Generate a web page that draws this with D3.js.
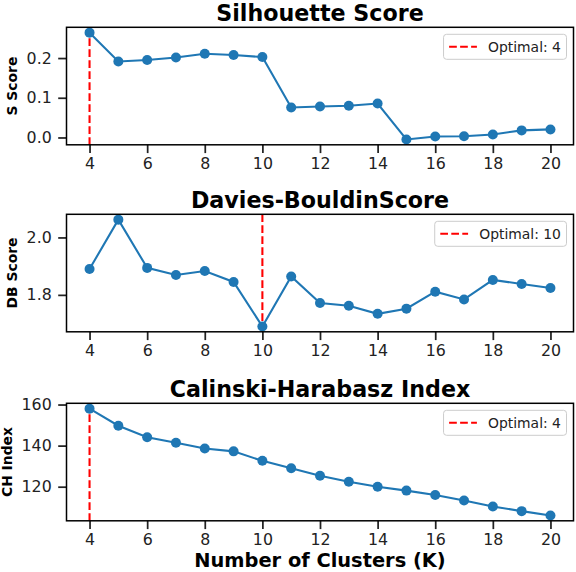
<!DOCTYPE html>
<html>
<head>
<meta charset="utf-8">
<script src="https://cdn.jsdelivr.net/npm/d3@7/dist/d3.min.js"></script>
<style>
  body { margin: 0; background: #fff; }
  text { font-family: "DejaVu Sans", sans-serif; }
</style>
</head>
<body>
<div id="chart"></div>
<script>
// number of clusters tried
const kValues = [4, 5, 6, 7, 8, 9, 10, 11, 12, 13, 14, 15, 16, 17, 18, 19, 20];

// scores
const silhouetteScores = [0.264, 0.1915, 0.195, 0.2015, 0.211, 0.2075, 0.2025, 0.0755, 0.078, 0.0797,
                          0.0856, -0.005, 0.0025, 0.003, 0.0076, 0.0178, 0.0203];
const daviesBouldinScores = [1.890, 2.062, 1.894, 1.869, 1.883, 1.845, 1.690, 1.864, 1.772, 1.762,
                             1.734, 1.752, 1.811, 1.784, 1.852, 1.838, 1.824];
const calinskiScores = [158.0, 149.7, 144.1, 141.4, 138.6, 137.2, 132.6, 129.0, 125.3, 122.4,
                        120.0, 118.1, 116.0, 113.3, 110.4, 108.1, 106.0];

const xTicks = [4, 6, 8, 10, 12, 14, 16, 18, 20];
const silhouetteTicks = [0.0, 0.1, 0.2];
const daviesTicks = [1.8, 2.0];
const calinskiTicks = [120, 140, 160];

const width = 576, height = 572;
const left = 66.5, right = 573.5, panelH = 117.5;
const panelTops = [27.3, 214.3, 403.3];
const blue = "#1f77b4";
const ink = "#222222";

const panels = [
  { title: "Silhouette Score", ylabel: "S Score", values: silhouetteScores,
    ticks: silhouetteTicks, fmt: d3.format(".1f"), best: d3.maxIndex(silhouetteScores) },
  { title: "Davies-BouldinScore", ylabel: "DB Score", values: daviesBouldinScores,
    ticks: daviesTicks, fmt: d3.format(".1f"), best: d3.minIndex(daviesBouldinScores) },
  { title: "Calinski-Harabasz Index", ylabel: "CH Index", values: calinskiScores,
    ticks: calinskiTicks, fmt: d3.format("d"), best: d3.maxIndex(calinskiScores) }
];

// matplotlib style 5% margins
function padded(ext) {
  const p = (ext[1] - ext[0]) * 0.05;
  return [ext[0] - p, ext[1] + p];
}

const svg = d3.select("#chart").append("svg")
  .attr("width", width)
  .attr("height", height);

svg.append("rect").attr("width", width).attr("height", height).attr("fill", "#fff");

const x = d3.scaleLinear().domain(padded(d3.extent(kValues))).range([left, right]);

panels.forEach((p, i) => {
  const top = panelTops[i], bottom = top + panelH;
  const y = d3.scaleLinear().domain(padded(d3.extent(p.values))).range([bottom, top]);
  const g = svg.append("g");

  // title
  g.append("text")
    .attr("x", (left + right) / 2)
    .attr("y", top - 6.5)
    .attr("text-anchor", "middle")
    .style("font-size", "22.2px")
    .style("font-weight", "bold")
    .attr("fill", "#000")
    .text(p.title);

  // axes
  const xAxis = g.append("g")
    .attr("transform", `translate(0,${bottom})`)
    .call(d3.axisBottom(x).tickValues(xTicks).tickSize(8.3).tickPadding(4.5));
  const yAxis = g.append("g")
    .attr("transform", `translate(${left},0)`)
    .call(d3.axisLeft(y).tickValues(p.ticks).tickFormat(p.fmt).tickSize(8.3).tickPadding(6.5));

  [xAxis, yAxis].forEach(a => {
    a.select(".domain").remove();
    a.selectAll(".tick line").attr("stroke", ink).attr("stroke-width", 1.74);
    a.selectAll(".tick text")
      .attr("fill", ink)
      .style("font-size", "15.8px")
      .style("font-family", "DejaVu Sans");
  });

  // y label sits left of the widest tick label
  let maxW = 0;
  yAxis.selectAll(".tick text").each(function () {
    maxW = Math.max(maxW, this.getComputedTextLength());
  });
  const lx = left - 8.3 - 6.5 - maxW - 10;
  g.append("text")
    .attr("transform", `translate(${lx},${(top + bottom) / 2}) rotate(-90)`)
    .attr("text-anchor", "middle")
    .style("font-size", "13.9px")
    .style("font-weight", "bold")
    .attr("fill", "#000")
    .text(p.ylabel);

  // optimal marker line
  const bestK = kValues[p.best];
  g.append("line")
    .attr("x1", x(bestK)).attr("x2", x(bestK))
    .attr("y1", top).attr("y2", bottom)
    .attr("stroke", "red")
    .attr("stroke-width", 2.08)
    .attr("stroke-dasharray", "7.7,3.3");

  // series
  const pts = kValues.map((k, j) => [k, p.values[j]]);
  g.append("path")
    .datum(pts)
    .attr("fill", "none")
    .attr("stroke", blue)
    .attr("stroke-width", 2.08)
    .attr("d", d3.line().x(d => x(d[0])).y(d => y(d[1])));

  g.selectAll(".dot")
    .data(pts)
    .enter()
    .append("circle")
    .attr("class", "dot")
    .attr("cx", d => x(d[0]))
    .attr("cy", d => y(d[1]))
    .attr("r", 5)
    .attr("fill", blue);

  // frame
  g.append("rect")
    .attr("x", left).attr("y", top)
    .attr("width", right - left).attr("height", panelH)
    .attr("fill", "none")
    .attr("stroke", "#000")
    .attr("stroke-width", 1.5);

  // legend
  const fs = 13.9;
  const lg = g.append("g");
  const lbl = lg.append("text")
    .style("font-size", fs + "px")
    .attr("fill", ink)
    .text("Optimal: " + bestK);
  const tw = lbl.node().getComputedTextLength();
  const boxW = 0.4 * fs + 2 * fs + 0.8 * fs + tw + 0.4 * fs;
  const boxH = 25;
  const bx = right - 7 - boxW, by = top + 7;
  lg.insert("rect", "text")
    .attr("x", bx).attr("y", by)
    .attr("width", boxW).attr("height", boxH)
    .attr("rx", 3)
    .attr("fill", "#fff").attr("fill-opacity", 0.8)
    .attr("stroke", "#cccccc").attr("stroke-width", 1);
  lg.append("line")
    .attr("x1", bx + 0.4 * fs).attr("x2", bx + 2.4 * fs)
    .attr("y1", by + boxH / 2).attr("y2", by + boxH / 2)
    .attr("stroke", "red").attr("stroke-width", 2.08)
    .attr("stroke-dasharray", "7.7,3.3");
  lbl.attr("x", bx + 3.2 * fs).attr("y", by + boxH / 2 + 0.36 * fs);
});

// shared x label
svg.append("text")
  .attr("x", (left + right) / 2)
  .attr("y", 567)
  .attr("text-anchor", "middle")
  .style("font-size", "19.4px")
  .style("font-weight", "bold")
  .attr("fill", "#000")
  .text("Number of Clusters (K)");
</script>
</body>
</html>
